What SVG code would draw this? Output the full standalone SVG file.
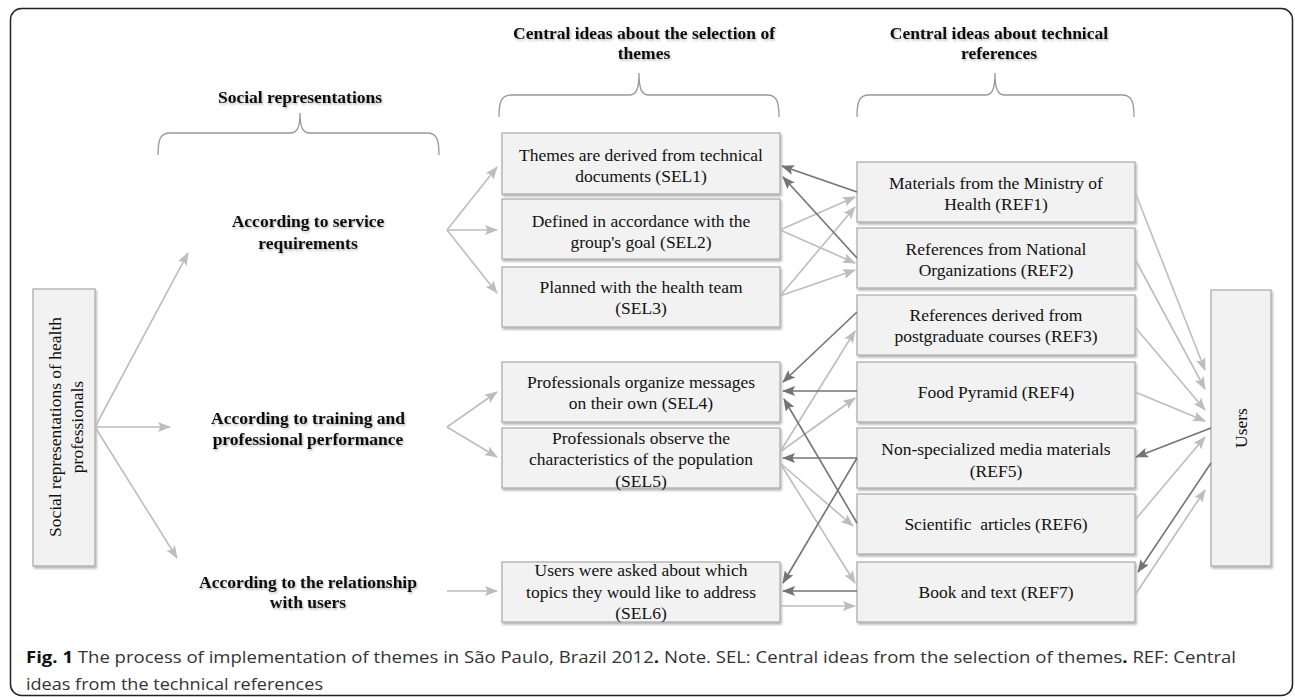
<svg xmlns="http://www.w3.org/2000/svg" width="1295" height="700" viewBox="0 0 1295 700">
<style>
.box{fill:#f2f2f2;stroke:#a8a8a8;stroke-width:1.2;filter:url(#sh)}
.t{font-family:"Liberation Serif","Times New Roman",serif;font-size:17.5px;fill:#111;text-anchor:middle}
.h{font-family:"Liberation Serif","Times New Roman",serif;font-size:17.5px;font-weight:bold;fill:#111;text-anchor:middle;filter:url(#tsh)}
.brace{fill:none;stroke:#999;stroke-width:1.3}
.lt{fill:none;stroke:#bdbdbd;stroke-width:1.6;marker-end:url(#al)}
.dk{fill:none;stroke:#747474;stroke-width:1.6;marker-end:url(#ad)}
.cap{font-family:"Open Sans","Liberation Sans",sans-serif;font-size:16px;fill:#333}
</style>
<defs>
<filter id="sh" x="-10%" y="-10%" width="130%" height="140%"><feDropShadow dx="1.2" dy="2" stdDeviation="1" flood-color="#000" flood-opacity="0.3"/></filter>
<filter id="tsh" x="-10%" y="-30%" width="120%" height="170%"><feDropShadow dx="1" dy="1.5" stdDeviation="1.2" flood-color="#000" flood-opacity="0.3"/></filter>
<marker id="al" markerUnits="userSpaceOnUse" markerWidth="13" markerHeight="10" viewBox="0 0 13 10" refX="12" refY="5" orient="auto"><path d="M0,0 L13,5 L0,10 L2.5,5 z" fill="#bdbdbd"/></marker>
<marker id="ad" markerUnits="userSpaceOnUse" markerWidth="13" markerHeight="10" viewBox="0 0 13 10" refX="12" refY="5" orient="auto"><path d="M0,0 L13,5 L0,10 L2.5,5 z" fill="#747474"/></marker>
</defs>
<rect x="10.5" y="8.5" width="1282" height="687" rx="11" fill="#fff" stroke="#222" stroke-width="1.5"/>

<g id="headers">
<text class="h" x="300" y="103">Social representations</text>
<path class="brace" d="M158,155 C158,140 160,133 170,133 L290,133 C297,133 300,128 300,113 C300,128 303,133 310,133 L427,133 C437,133 439,140 439,155"/>
<text class="h" x="644" y="39">Central ideas about the selection of</text>
<text class="h" x="644" y="59">themes</text>
<path class="brace" d="M499,117 C499,102 501,95 511,95 L629,95 C636,95 639,90 639,73 C639,90 642,95 649,95 L767,95 C777,95 779,102 779,117"/>
<text class="h" x="999" y="39">Central ideas about technical</text>
<text class="h" x="999" y="59">references</text>
<path class="brace" d="M857,117 C857,102 859,95 869,95 L985,95 C992,95 995,90 995,73 C995,90 998,95 1005,95 L1122,95 C1132,95 1134,102 1134,117"/>
</g>

<g id="social-health">
<rect class="box" x="33" y="289" width="62" height="277"/>
<text class="t" transform="translate(61,427) rotate(-90)">Social representations of health</text>
<text class="t" transform="translate(83,427) rotate(-90)">professionals</text>
</g>

<g id="service"><text class="h" x="308" y="227">According to service</text><text class="h" x="308" y="249">requirements</text></g>
<g id="training"><text class="h" x="308" y="424">According to training and</text><text class="h" x="308" y="445">professional performance</text></g>
<g id="relationship"><text class="h" x="308" y="588">According to the relationship</text><text class="h" x="308" y="608">with users</text></g>

<g id="SEL1"><rect class="box" x="502" y="133" width="278" height="61"/><text class="t" x="641" y="161">Themes are derived from technical</text><text class="t" x="641" y="182">documents (SEL1)</text></g>
<g id="SEL2"><rect class="box" x="502" y="199" width="278" height="60"/><text class="t" x="641" y="227">Defined in accordance with the</text><text class="t" x="641" y="248">group's goal (SEL2)</text></g>
<g id="SEL3"><rect class="box" x="502" y="267" width="278" height="60"/><text class="t" x="641" y="293">Planned with the health team</text><text class="t" x="641" y="314">(SEL3)</text></g>
<g id="SEL4"><rect class="box" x="502" y="362" width="278" height="60"/><text class="t" x="641" y="388">Professionals organize messages</text><text class="t" x="641" y="409">on their own (SEL4)</text></g>
<g id="SEL5"><rect class="box" x="502" y="428" width="278" height="60"/><text class="t" x="641" y="444">Professionals observe the</text><text class="t" x="641" y="465">characteristics of the population</text><text class="t" x="641" y="487">(SEL5)</text></g>
<g id="SEL6"><rect class="box" x="502" y="562" width="278" height="60"/><text class="t" x="641" y="576">Users were asked about which</text><text class="t" x="641" y="598">topics they would like to address</text><text class="t" x="641" y="619">(SEL6)</text></g>

<g id="REF1"><rect class="box" x="857" y="162" width="278" height="60"/><text class="t" x="996" y="189">Materials from the Ministry of</text><text class="t" x="996" y="210">Health (REF1)</text></g>
<g id="REF2"><rect class="box" x="857" y="228" width="278" height="60"/><text class="t" x="996" y="255">References from National</text><text class="t" x="996" y="276">Organizations (REF2)</text></g>
<g id="REF3"><rect class="box" x="857" y="295" width="278" height="60"/><text class="t" x="996" y="321">References derived from</text><text class="t" x="996" y="342">postgraduate courses (REF3)</text></g>
<g id="REF4"><rect class="box" x="857" y="362" width="278" height="60"/><text class="t" x="996" y="398">Food Pyramid (REF4)</text></g>
<g id="REF5"><rect class="box" x="857" y="428" width="278" height="60"/><text class="t" x="996" y="455">Non-specialized media materials</text><text class="t" x="996" y="477">(REF5)</text></g>
<g id="REF6"><rect class="box" x="857" y="494" width="278" height="60"/><text class="t" x="996" y="530" xml:space="preserve">Scientific  articles (REF6)</text></g>
<g id="REF7"><rect class="box" x="857" y="562" width="278" height="60"/><text class="t" x="996" y="598">Book and text (REF7)</text></g>

<g id="users"><rect class="box" x="1211" y="290" width="60" height="276"/><text class="t" transform="translate(1247,428) rotate(-90)">Users</text></g>

<g id="connectors">
<line class="lt" x1="95" y1="427" x2="188" y2="253"/>
<line class="lt" x1="95" y1="427" x2="170" y2="427"/>
<line class="lt" x1="95" y1="427" x2="177" y2="558"/>
<line class="lt" x1="447" y1="230" x2="497" y2="167"/>
<line class="lt" x1="447" y1="230" x2="497" y2="230"/>
<line class="lt" x1="447" y1="230" x2="497" y2="293"/>
<line class="lt" x1="447" y1="427" x2="497" y2="392"/>
<line class="lt" x1="447" y1="427" x2="497" y2="457"/>
<line class="lt" x1="447" y1="591" x2="497" y2="591"/>
<line class="lt" x1="780" y1="230" x2="855" y2="197"/>
<line class="lt" x1="780" y1="230" x2="855" y2="263"/>
<line class="lt" x1="780" y1="296" x2="855" y2="207"/>
<line class="lt" x1="780" y1="296" x2="855" y2="270"/>
<line class="lt" x1="780" y1="452" x2="855" y2="331"/>
<line class="lt" x1="780" y1="452" x2="855" y2="398"/>
<line class="lt" x1="780" y1="463" x2="853" y2="526"/>
<line class="lt" x1="780" y1="463" x2="855" y2="583"/>
<line class="lt" x1="780" y1="606" x2="855" y2="606"/>
<line class="dk" x1="857" y1="192" x2="782" y2="166"/>
<line class="dk" x1="857" y1="258" x2="783" y2="177"/>
<line class="dk" x1="857" y1="312" x2="783" y2="382"/>
<line class="dk" x1="857" y1="391" x2="783" y2="391"/>
<line class="dk" x1="857" y1="523" x2="784" y2="399"/>
<line class="dk" x1="857" y1="458" x2="783" y2="458"/>
<line class="dk" x1="857" y1="458" x2="783" y2="583"/>
<line class="dk" x1="857" y1="591" x2="783" y2="591"/>
<line class="lt" x1="1135" y1="192" x2="1205" y2="370"/>
<line class="lt" x1="1135" y1="259" x2="1205" y2="389"/>
<line class="lt" x1="1135" y1="327" x2="1205" y2="410"/>
<line class="lt" x1="1135" y1="392" x2="1205" y2="421"/>
<line class="dk" x1="1211" y1="428" x2="1136" y2="457"/>
<line class="lt" x1="1135" y1="520" x2="1205" y2="437"/>
<line class="dk" x1="1211" y1="463" x2="1138" y2="572"/>
<line class="lt" x1="1135" y1="595" x2="1205" y2="490"/>
</g>

<g id="caption">
<text class="cap" x="26" y="663" textLength="1210" lengthAdjust="spacingAndGlyphs"><tspan font-weight="bold" fill="#111">Fig. 1</tspan> The process of implementation of themes in São Paulo, Brazil 2012<tspan font-weight="bold" fill="#111">.</tspan> Note. SEL: Central ideas from the selection of themes<tspan font-weight="bold" fill="#111">.</tspan> REF: Central</text>
<text class="cap" x="26" y="690" textLength="297" lengthAdjust="spacingAndGlyphs">ideas from the technical references</text>
</g>
</svg>
